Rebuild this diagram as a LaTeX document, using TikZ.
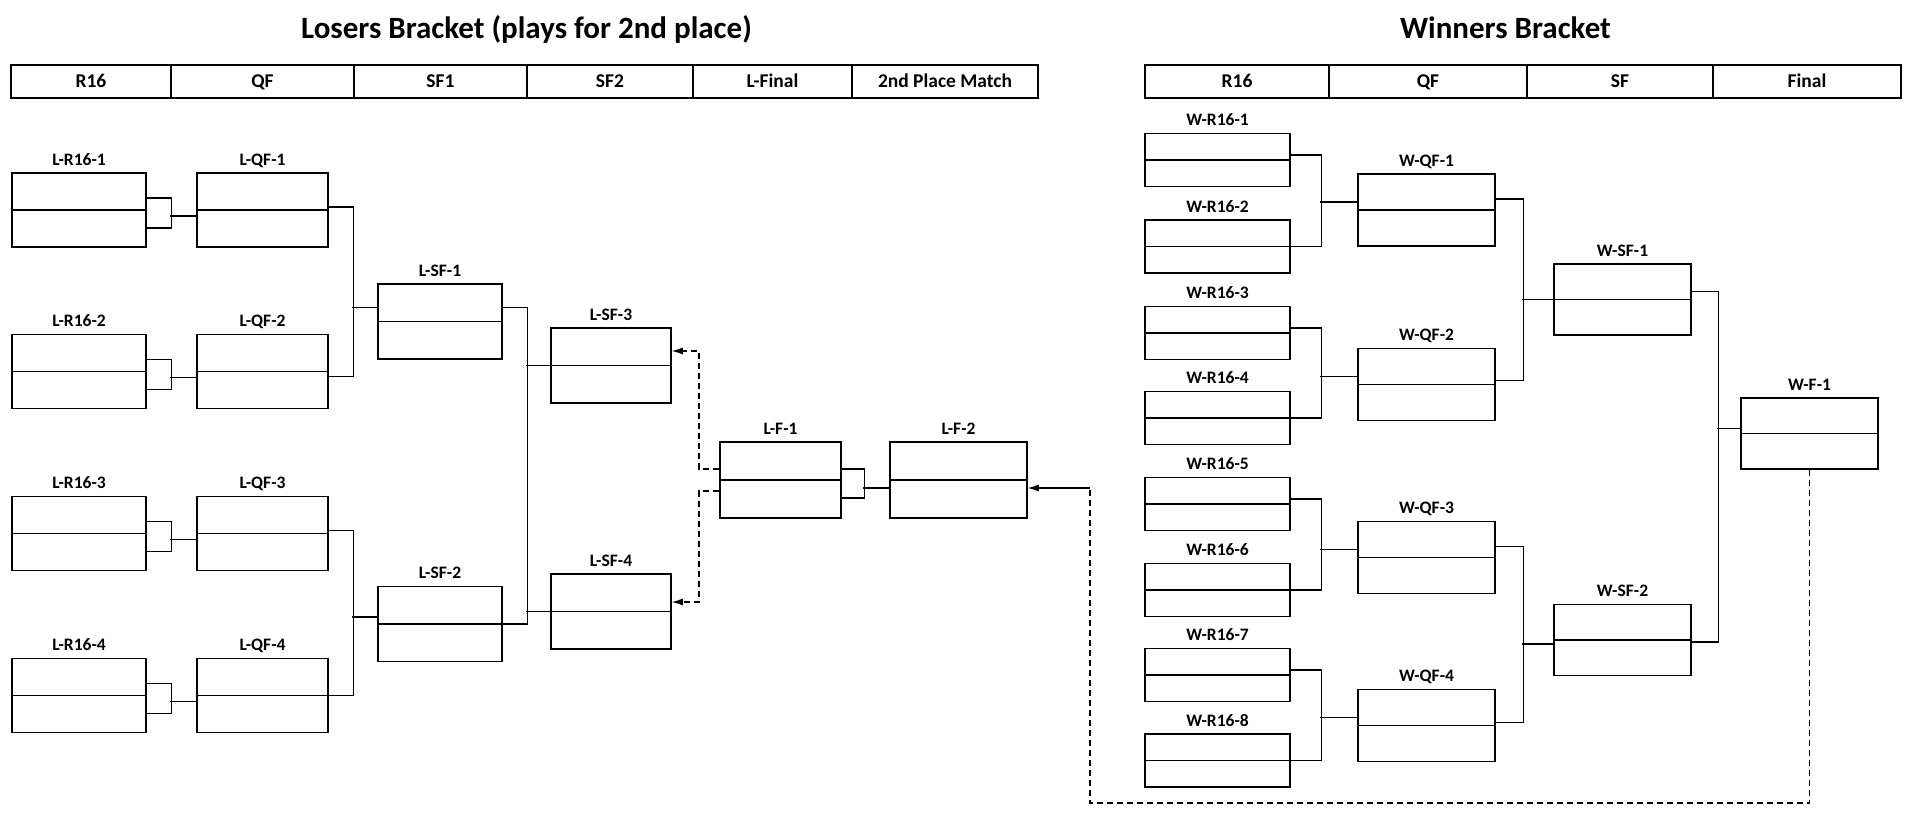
\documentclass[tikz,border=0pt]{standalone}
\usepackage{fontspec}
\setmainfont{Carlito}
\usetikzlibrary{arrows.meta,calc}

\begin{document}
\begin{tikzpicture}[x=1pt, y=-1pt, label distance=7pt,
  match/.style 2 args={draw, line width=1.5pt, inner sep=0pt,
    minimum width=#1pt, minimum height=#2pt,
    path picture={\draw[line width=1.5pt] (path picture bounding box.west) -- (path picture bounding box.east);}},
  tag/.style={font=\fontsize{17.5}{20}\selectfont\bfseries, inner sep=0pt, text depth=0pt},
  cell/.style={draw, line width=1.8pt, inner sep=0pt, minimum width=#1pt, minimum height=33pt,
    text height=12.6pt, text depth=0pt, font=\fontsize{19.5}{23}\selectfont\bfseries},
  headline/.style={anchor=base, inner sep=0pt, font=\fontsize{31}{36}\selectfont\bfseries},
  link/.style={line width=1.2pt},
  feed/.style={line width=1.2pt, dash pattern=on 6pt off 4pt},
  arrowed/.style={-{Latex[length=11pt,width=7pt]}}
]

% Page background and size
\path[fill=white] (0,0) rectangle (1913,822);

% Titles
\node[headline] (ltitle) at (526.5,38) {Losers Bracket (plays for 2nd place)};
\node[headline] (wtitle) at (1505.5,38) {Winners Bracket};

% Header of the losers bracket
\node[cell=160] (hLR16) at (91,81.5) {R16};
\node[cell=183] (hLQF) at (262.5,81.5) {QF};
\node[cell=173] (hLSF1) at (440.5,81.5) {SF1};
\node[cell=166] (hLSF2) at (610,81.5) {SF2};
\node[cell=159] (hLF) at (772.5,81.5) {L-Final};
\node[cell=186] (hL2nd) at (945,81.5) {2nd Place Match};

% Header of the winners bracket
\node[cell=184] (hWR16) at (1237,81.5) {R16};
\node[cell=198] (hWQF) at (1428,81.5) {QF};
\node[cell=186] (hWSF) at (1620,81.5) {SF};
\node[cell=188] (hWF) at (1807,81.5) {Final};

% Losers bracket: R16 and QF
\node[match={134}{74}, label={[tag]above:L-R16-1}] (LR1) at (79,210) {};
\node[match={131}{74}, label={[tag]above:L-QF-1}] (LQ1) at (262.5,210) {};
\node[match={134}{74}, label={[tag]above:L-R16-2}] (LR2) at (79,371.5) {};
\node[match={131}{74}, label={[tag]above:L-QF-2}] (LQ2) at (262.5,371.5) {};
\node[match={134}{74}, label={[tag]above:L-R16-3}] (LR3) at (79,533.5) {};
\node[match={131}{74}, label={[tag]above:L-QF-3}] (LQ3) at (262.5,533.5) {};
\node[match={134}{74}, label={[tag]above:L-R16-4}] (LR4) at (79,695.5) {};
\node[match={131}{74}, label={[tag]above:L-QF-4}] (LQ4) at (262.5,695.5) {};

% Losers bracket: SF1, SF2 and final
\node[match={124}{75}, label={[tag]above:L-SF-1}] (LSF1) at (440,321.5) {};
\node[match={124}{75}, label={[tag]above:L-SF-2}] (LSF2) at (440,624) {};
\node[match={120}{75}, label={[tag]above:L-SF-3}] (LSF3) at (611,365.5) {};
\node[match={120}{75}, label={[tag]above:L-SF-4}] (LSF4) at (611,611.5) {};
\node[match={121}{76}, label={[tag]above:L-F-1}] (LF1) at (780.5,480) {};
\node[match={137}{76}, label={[tag]above:L-F-2}] (LF2) at (958.5,480) {};

% Winners bracket: R16
\node[match={145}{53}, label={[tag]above:W-R16-1}] (WR1) at (1217.5,160) {};
\node[match={145}{53}, label={[tag]above:W-R16-2}] (WR2) at (1217.5,246.5) {};
\node[match={145}{53}, label={[tag]above:W-R16-3}] (WR3) at (1217.5,333) {};
\node[match={145}{53}, label={[tag]above:W-R16-4}] (WR4) at (1217.5,418) {};
\node[match={145}{53}, label={[tag]above:W-R16-5}] (WR5) at (1217.5,504) {};
\node[match={145}{53}, label={[tag]above:W-R16-6}] (WR6) at (1217.5,590) {};
\node[match={145}{53}, label={[tag]above:W-R16-7}] (WR7) at (1217.5,675) {};
\node[match={145}{53}, label={[tag]above:W-R16-8}] (WR8) at (1217.5,760.5) {};

% Winners bracket: QF, SF and final
\node[match={137}{72}, label={[tag]above:W-QF-1}] (WQ1) at (1426.5,210) {};
\node[match={137}{72}, label={[tag]above:W-QF-2}] (WQ2) at (1426.5,384.5) {};
\node[match={137}{72}, label={[tag]above:W-QF-3}] (WQ3) at (1426.5,557.5) {};
\node[match={137}{72}, label={[tag]above:W-QF-4}] (WQ4) at (1426.5,725.5) {};
\node[match={137}{71}, label={[tag]above:W-SF-1}] (WSF1) at (1622.5,299.5) {};
\node[match={137}{71}, label={[tag]above:W-SF-2}] (WSF2) at (1622.5,640) {};
\node[match={137}{71}, label={[tag]above:W-F-1}] (WF1) at (1809.5,433.5) {};

% Losers bracket: R16 into QF
\draw[link] ($(LR1.east)+(0,-12)$) -- ++(25,0) |- ($(LR1.east)+(0,18)$);
\draw[link] ($(LQ1.west)+(0,6)$) -- ++(-26,0);
\draw[link] ($(LR2.east)+(0,-12)$) -- ++(25,0) |- ($(LR2.east)+(0,18)$);
\draw[link] ($(LQ2.west)+(0,6)$) -- ++(-26,0);
\draw[link] ($(LR3.east)+(0,-12)$) -- ++(25,0) |- ($(LR3.east)+(0,18)$);
\draw[link] ($(LQ3.west)+(0,6)$) -- ++(-26,0);
\draw[link] ($(LR4.east)+(0,-12)$) -- ++(25,0) |- ($(LR4.east)+(0,18)$);
\draw[link] ($(LQ4.west)+(0,6)$) -- ++(-26,0);

% Losers bracket: QF into SF1
\draw[link] ($(LQ1.east)+(0,-3)$) -- ++(25,0) |- ($(LQ2.east)+(0,5)$);
\draw[link] ($(LSF1.west)+(0,-14)$) -- ++(-25,0);
\draw[link] ($(LQ3.east)+(0,-3)$) -- ++(25,0) |- (LQ4.east);
\draw[link] ($(LSF2.west)+(0,-7)$) -- ++(-25,0);

% Losers bracket: SF1 into SF2
\draw[link] ($(LSF1.east)+(0,-14)$) -- ++(25,0) |- (LSF2.east);
\draw[link] (LSF3.west) -- ++(-24,0);
\draw[link] (LSF4.west) -- ++(-24,0);

% Losers bracket: L-F-1 into L-F-2
\draw[link] ($(LF1.east)+(0,-11)$) -- ++(23,0) |- ($(LF1.east)+(0,18)$);
\draw[link] ($(LF2.west)+(0,8)$) -- ++(-26,0);

% Dashed feeds from L-F-1 back to SF2
\coordinate (upL) at (699,351);
\coordinate (dnL) at (699,602);
\draw[feed, arrowed] ($(LF1.west)+(0,-11)$) -| (upL) -- (LSF3.east |- upL);
\draw[feed, arrowed] ($(LF1.west)+(0,11)$) -| (dnL) -- (LSF4.east |- dnL);

% Winners bracket: R16 into QF
\draw[link] ($(WR1.east)+(0,-5)$) -- ++(31,0) |- (WR2.east);
\draw[link] ($(WQ1.west)+(0,-8)$) -- ++(-37,0);
\draw[link] ($(WR3.east)+(0,-5)$) -- ++(31,0) |- (WR4.east);
\draw[link] ($(WQ2.west)+(0,-8)$) -- ++(-37,0);
\draw[link] ($(WR5.east)+(0,-5)$) -- ++(31,0) |- (WR6.east);
\draw[link] ($(WQ3.west)+(0,-8)$) -- ++(-37,0);
\draw[link] ($(WR7.east)+(0,-5)$) -- ++(31,0) |- (WR8.east);
\draw[link] ($(WQ4.west)+(0,-8)$) -- ++(-37,0);

% Winners bracket: QF into SF
\draw[link] ($(WQ1.east)+(0,-11)$) -- ++(28,0) |- ($(WQ2.east)+(0,-4)$);
\draw[link] (WSF1.west) -- ++(-31,0);
\draw[link] ($(WQ3.east)+(0,-11)$) -- ++(28,0) |- ($(WQ4.east)+(0,-3)$);
\draw[link] ($(WSF2.west)+(0,4)$) -- ++(-31,0);

% Winners bracket: SF into final
\draw[link] ($(WSF1.east)+(0,-8)$) -- ++(27,0) |- ($(WSF2.east)+(0,2)$);
\draw[link] ($(WF1.west)+(0,-5)$) -- ++(-23,0);

% Dashed feed from W-F-1 to L-F-2
\coordinate (retB) at (1090,803);
\coordinate (retU) at (1090,488);
\draw[feed] (WF1.south) |- (retB) -- (retU);
\draw[link, arrowed] (retU) -- (LF2.east |- retU);

\end{tikzpicture}
\end{document}
